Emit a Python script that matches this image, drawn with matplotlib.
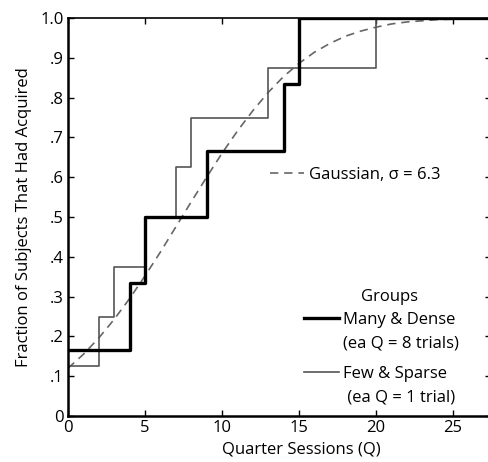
import numpy as np
import matplotlib
matplotlib.use("Agg")
import matplotlib.pyplot as plt
from matplotlib.lines import Line2D

plt.rcParams["font.family"] = ["Open Sans", "DejaVu Sans"]

# ---------------- data ----------------
# Many & Dense group (6 subjects): fraction acquired per quarter session
dense_q = [0, 4, 5, 9, 14, 15, 27.5]
dense_frac = [1/6, 2/6, 3/6, 4/6, 5/6, 1.0, 1.0]

# Few & Sparse group (8 subjects)
sparse_q = [0, 2, 3, 5, 7, 8, 13, 20, 27.5]
sparse_frac = [1/8, 2/8, 3/8, 4/8, 5/8, 6/8, 7/8, 1.0, 1.0]

# Gaussian fit (sigma = 6.3)
gauss_q = list(range(0, 28)) + [27.5]
gauss_frac = [0.120, 0.155, 0.196, 0.243, 0.295, 0.352, 0.412, 0.475,
              0.538, 0.600, 0.660, 0.716, 0.767, 0.813, 0.853, 0.886,
              0.914, 0.936, 0.954, 0.967, 0.977, 0.985, 0.990, 0.993,
              0.996, 0.997, 0.998, 0.999, 0.999]

xticks = [0, 5, 10, 15, 20, 25]
yticks = [0, .1, .2, .3, .4, .5, .6, .7, .8, .9, 1.0]
ytick_labels = ["0", ".1", ".2", ".3", ".4", ".5", ".6", ".7", ".8", ".9", "1.0"]

# ---------------- figure ----------------
fig = plt.figure(figsize=(4.89, 4.62), dpi=100)
ax = fig.add_axes([68/489, 46/462, 423.5/489, 398/462])

g_line, = ax.plot(gauss_q, gauss_frac, color="#666666", lw=1.2,
                  dashes=(5, 3.5))
s_line, = ax.step(sparse_q, sparse_frac, where="post", color="#555555", lw=1.2)
d_line, = ax.step(dense_q, dense_frac, where="post", color="black", lw=2.4)

ax.set_xlim(0, 27.5)
ax.set_ylim(0, 1.0)
ax.set_xticks(xticks)
ax.set_yticks(yticks)
ax.set_yticklabels(ytick_labels)
ax.tick_params(direction="in", length=4, width=1, labelsize=12,
               top=True, right=True, pad=3)

for side in ["left", "bottom"]:
    ax.spines[side].set_linewidth(1.8)
ax.spines["top"].set_linewidth(1.2)
ax.spines["right"].set_linewidth(1.2)

ax.set_xlabel("Quarter Sessions (Q)", fontsize=12)
ax.xaxis.set_label_coords((301 - 68) / 423.5, -0.063)
ax.set_ylabel("Fraction of Subjects That Had Acquired", fontsize=12,
              labelpad=6)

# legends
blank = Line2D([], [], color="none")

leg1 = ax.legend([g_line], ["Gaussian, \u03c3 = 6.3"], loc="center left",
                 bbox_to_anchor=((266 - 68) / 423.5, 1 - (175 - 18) / 398),
                 frameon=True, facecolor="white", edgecolor="none",
                 framealpha=1, fancybox=False, borderpad=0.25,
                 borderaxespad=0, handlelength=2.0, handletextpad=0.35,
                 fontsize=12)
ax.add_artist(leg1)

leg2 = ax.legend([d_line, blank], ["Many & Dense", "(ea Q = 8 trials)"],
                 title="Groups", title_fontsize=12, loc="upper left",
                 bbox_to_anchor=((300 - 68) / 423.5, 1 - (285 - 18) / 398),
                 frameon=True, facecolor="white", edgecolor="none",
                 framealpha=1, fancybox=False, borderpad=0.25,
                 borderaxespad=0, handlelength=2.1, handletextpad=0.25,
                 labelspacing=0.42, fontsize=12)
leg2.get_title().set_position((8, 0))
ax.add_artist(leg2)

leg3 = ax.legend([s_line, blank], ["Few & Sparse", " (ea Q = 1 trial)"],
                 loc="upper left",
                 bbox_to_anchor=((300 - 68) / 423.5, 1 - (362 - 18) / 398),
                 frameon=True, facecolor="white", edgecolor="none",
                 framealpha=1, fancybox=False, borderpad=0.25,
                 borderaxespad=0, handlelength=2.1, handletextpad=0.25,
                 labelspacing=0.42, fontsize=12)

fig.savefig("out.png", dpi=100)
